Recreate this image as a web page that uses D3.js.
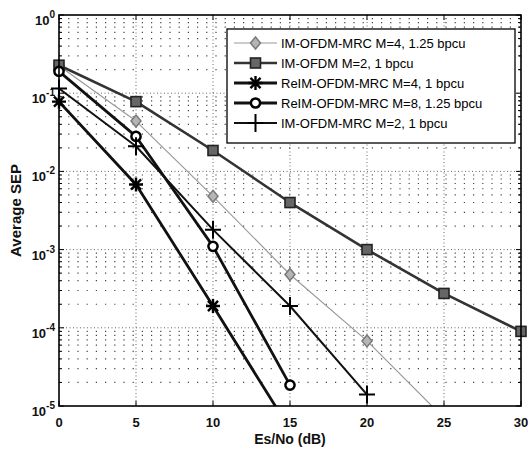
<!DOCTYPE html>
<html><head><meta charset="utf-8">
<script src="https://cdn.jsdelivr.net/npm/d3@7"></script>
<style>body{margin:0;background:#fff}svg{display:block}text{font-family:"Liberation Sans",Arial,sans-serif}</style>
</head><body><svg id="c" width="529" height="451"></svg>
<script>
const snr = [0, 5, 10, 15, 20, 25, 30];
const xTicks = [0, 5, 10, 15, 20, 25, 30];
const yTicks = [1, 1e-1, 1e-2, 1e-3, 1e-4, 1e-5];
const yTickExp = ["0", "-1", "-2", "-3", "-4", "-5"];
const legendLabels = ["IM-OFDM-MRC M=4, 1.25 bpcu", "IM-OFDM M=2, 1 bpcu", "ReIM-OFDM-MRC M=4, 1 bpcu", "ReIM-OFDM-MRC M=8, 1.25 bpcu", "IM-OFDM-MRC M=2, 1 bpcu"];
const imMrcM4 = [0.225, 0.044, 0.0048, 4.8e-4, 6.8e-5, 7e-6];
const imOfdmM2 = [0.228, 0.078, 0.0185, 0.004, 1.0e-3, 2.75e-4, 9e-5];
const reimM4 = [0.078, 0.0068, 1.9e-4, 5e-6];
const reimM8 = [0.19, 0.028, 1.1e-3, 1.85e-5];
const imMrcM2 = [0.115, 0.021, 1.8e-3, 1.9e-4, 1.4e-5];

const series = [
  {vals: imMrcM4, marker: "diamond", color: "#9a9a9a", width: 1.2},
  {vals: imOfdmM2, marker: "square", color: "#333", width: 2.6},
  {vals: reimM4, marker: "asterisk", color: "#111", width: 2.8},
  {vals: reimM8, marker: "circle", color: "#111", width: 2.8},
  {vals: imMrcM2, marker: "plus", color: "#111", width: 2.0}
];

const svg = d3.select("#c");
const L = 59, R = 521, T = 15, B = 406;
const x = d3.scaleLinear().domain([0, 30]).range([L, R]);
const y = d3.scaleLog().domain([1e-5, 1]).range([B, T]);

// grid
const g = svg.append("g");
const minor = [];
for (let e = -5; e < 0; e++) for (let k = 2; k <= 9; k++) minor.push(k * Math.pow(10, e));
g.selectAll(".mn").data(minor).enter().append("line")
  .attr("x1", L).attr("x2", R).attr("y1", d => y(d)).attr("y2", d => y(d))
  .attr("stroke", "#444").attr("stroke-width", 1.2).attr("stroke-dasharray", "1.2,8");
g.selectAll(".mj").data(yTicks.slice(1, 5)).enter().append("line")
  .attr("x1", L).attr("x2", R).attr("y1", d => y(d)).attr("y2", d => y(d))
  .attr("stroke", "#666").attr("stroke-width", 1).attr("stroke-dasharray", "1,2.5");
g.selectAll(".vx").data(xTicks.slice(1, 6)).enter().append("line")
  .attr("y1", T).attr("y2", B).attr("x1", d => x(d)).attr("x2", d => x(d))
  .attr("stroke", "#666").attr("stroke-width", 1).attr("stroke-dasharray", "1,2.5");

// axes ticks (inward)
const ax = svg.append("g").attr("stroke", "#000");
xTicks.forEach(t => {
  ax.append("line").attr("x1", x(t)).attr("x2", x(t)).attr("y1", B).attr("y2", B - 5);
  ax.append("line").attr("x1", x(t)).attr("x2", x(t)).attr("y1", T).attr("y2", T + 5);
});
yTicks.forEach(t => {
  ax.append("line").attr("x1", L).attr("x2", L + 5).attr("y1", y(t)).attr("y2", y(t));
  ax.append("line").attr("x1", R).attr("x2", R - 5).attr("y1", y(t)).attr("y2", y(t));
});
minor.forEach(t => {
  ax.append("line").attr("x1", L).attr("x2", L + 3).attr("y1", y(t)).attr("y2", y(t));
  ax.append("line").attr("x1", R).attr("x2", R - 3).attr("y1", y(t)).attr("y2", y(t));
});

// tick labels
svg.append("g").selectAll("text").data(xTicks).enter().append("text")
  .attr("x", d => x(d)).attr("y", B + 21).attr("text-anchor", "middle")
  .attr("font-size", 13).attr("font-weight", "bold").attr("fill", "#111").text(d => d);
yTicks.forEach((t, i) => {
  const tx = svg.append("text").attr("x", L - 4).attr("y", y(t) + 10).attr("text-anchor", "end")
    .attr("font-size", 13).attr("font-weight", "bold").attr("fill", "#111");
  tx.append("tspan").text("10");
  tx.append("tspan").attr("dy", -7).attr("font-size", 10).text(yTickExp[i]);
});

svg.append("text").attr("x", (L + R) / 2).attr("y", 444).attr("text-anchor", "middle")
  .attr("font-size", 14).attr("font-weight", "bold").attr("fill", "#111").text("Es/No (dB)");
svg.append("text").attr("transform", `translate(21,${(T + B) / 2}) rotate(-90)`).attr("text-anchor", "middle")
  .attr("font-size", 15).attr("font-weight", "bold").attr("fill", "#111").text("Average SEP");

// clip
svg.append("clipPath").attr("id", "pc").append("rect").attr("x", L).attr("y", T).attr("width", R - L).attr("height", B - T);

function drawMarker(sel, type, cx, cy, color) {
  const m = sel.append("g").attr("transform", `translate(${cx},${cy})`);
  if (type === "diamond") {
    m.append("path").attr("d", "M0,-6L5,0L0,6L-5,0Z").attr("fill", "#b5b5b5").attr("stroke", "#7a7a7a").attr("stroke-width", 1.5);
  } else if (type === "square") {
    m.append("rect").attr("x", -5).attr("y", -5).attr("width", 10).attr("height", 10).attr("fill", "#666").attr("stroke", "#222").attr("stroke-width", 1.6);
  } else if (type === "asterisk") {
    const r = 7, d = r * 0.72;
    m.append("path").attr("d", `M${-r},0L${r},0M0,${-r}L0,${r}M${-d},${-d}L${d},${d}M${-d},${d}L${d},${-d}`)
      .attr("stroke", "#000").attr("stroke-width", 2.4);
  } else if (type === "circle") {
    m.append("circle").attr("r", 4.6).attr("fill", "#fff").attr("stroke", "#000").attr("stroke-width", 2.5);
  } else if (type === "plus") {
    m.append("path").attr("d", "M-8,0L8,0M0,-9L0,9").attr("stroke", "#000").attr("stroke-width", 2);
  }
}

const line = d3.line().x((d, i) => x(snr[i])).y(d => y(d));
const plot = svg.append("g").attr("clip-path", "url(#pc)");
series.forEach(s => {
  plot.append("path").attr("d", line(s.vals)).attr("fill", "none")
    .attr("stroke", s.color).attr("stroke-width", s.width).attr("stroke-linejoin", "round");
});
const mk = svg.append("g");
series.forEach(s => {
  s.vals.forEach((v, i) => { if (v >= 1e-5) drawMarker(mk, s.marker, x(snr[i]), y(v), s.color); });
});

// axes box
svg.append("rect").attr("x", L).attr("y", T).attr("width", R - L).attr("height", B - T)
  .attr("fill", "none").attr("stroke", "#000").attr("stroke-width", 1.6);

// legend
const lg = svg.append("g");
lg.append("rect").attr("x", 227).attr("y", 29).attr("width", 288).attr("height", 114)
  .attr("fill", "#fff").attr("stroke", "#000").attr("stroke-width", 1.3);
series.forEach((s, i) => {
  const ly = 43 + i * 20;
  lg.append("line").attr("x1", 234).attr("x2", 277).attr("y1", ly).attr("y2", ly)
    .attr("stroke", s.color).attr("stroke-width", s.width);
  drawMarker(lg, s.marker, 255.5, ly, s.color);
  lg.append("text").attr("x", 281).attr("y", ly + 5).attr("font-size", 13).attr("fill", "#000").text(legendLabels[i]);
});
</script></body></html>
